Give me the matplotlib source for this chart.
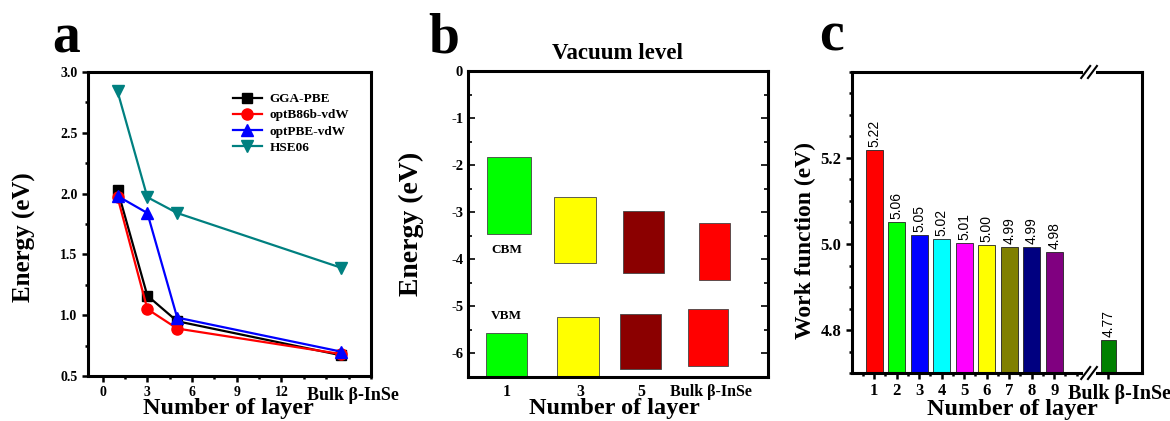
import matplotlib
matplotlib.use('Agg')
import matplotlib.pyplot as plt
from matplotlib.ticker import MultipleLocator

plt.rcParams['font.family'] = ['Liberation Serif', 'DejaVu Serif']
plt.rcParams['font.weight'] = 'bold'
plt.rcParams['axes.labelweight'] = 'bold'
plt.rcParams['axes.titleweight'] = 'bold'
plt.rcParams['axes.linewidth'] = 2.2
plt.rcParams['axes.unicode_minus'] = False

# panel a: band gap vs number of layers (bulk plotted at x=16)
layers_a = [1, 3, 5, 16]
gga_pbe = [2.03, 1.16, 0.95, 0.67]
optb86b = [1.97, 1.05, 0.89, 0.68]
optpbe = [1.98, 1.84, 0.98, 0.70]
hse06 = [2.84, 1.97, 1.84, 1.39]

# panel b: band edges relative to vacuum level
cats_b = ['1', '3', '5', 'Bulk β-InSe']
cbm_top = [-1.82, -2.67, -2.97, -3.22]
cbm_bot = [-3.47, -4.07, -4.30, -4.45]
vbm_top = [-5.57, -5.23, -5.16, -5.05]
vbm_bot = [-6.6, -6.6, -6.34, -6.27]
colors_b = ['#00ff00', '#ffff00', '#8b0000', '#ff0000']

# panel c: work function
cats_c = ['1', '2', '3', '4', '5', '6', '7', '8', '9', 'Bulk β-InSe']
work_func = [5.218, 5.052, 5.022, 5.012, 5.002, 4.997, 4.993, 4.993, 4.982, 4.777]
wf_labels = ['5.22', '5.06', '5.05', '5.02', '5.01', '5.00', '4.99', '4.99', '4.98', '4.77']
colors_c = ['#ff0000', '#00ff00', '#0000ff', '#00ffff', '#ff00ff',
            '#ffff00', '#808000', '#000080', '#800080', '#008000']


def plot_gap(ax):
    ax.plot(layers_a, gga_pbe, '-s', color='black', lw=1.6, ms=7, label='GGA-PBE')
    ax.plot(layers_a, optb86b, '-o', color='red', lw=1.6, ms=8, label='optB86b-vdW')
    ax.plot(layers_a, optpbe, '-^', color='blue', lw=1.6, ms=8, label='optPBE-vdW')
    ax.plot(layers_a, hse06, '-v', color='#008080', lw=1.6, ms=8, label='HSE06')

    ax.set_xlim(-1, 18)
    ax.set_ylim(0.5, 3.0)
    ax.set_xticks([0, 3, 6, 9, 12])
    ax.xaxis.set_minor_locator(MultipleLocator(1.5))
    ax.yaxis.set_major_locator(MultipleLocator(0.5))
    ax.yaxis.set_minor_locator(MultipleLocator(0.25))
    ax.tick_params(which='both', direction='out', width=1.8, labelsize=10)
    ax.tick_params(which='major', length=4)
    ax.tick_params(which='minor', length=2.5)
    ax.text(16.8, -0.035, 'Bulk β-InSe', transform=ax.get_xaxis_transform(),
            ha='center', va='top', fontsize=13)

    ax.set_xlabel('Number of layer', fontsize=17.5)
    ax.xaxis.set_label_coords(0.495, -0.072)
    ax.set_ylabel('Energy (eV)', fontsize=18)
    ax.yaxis.set_label_coords(-0.184, 0.457)
    ax.legend(loc='upper left', bbox_to_anchor=(0.47, 0.97), frameon=False,
              fontsize=9.5, handlelength=2.2, labelspacing=0.3,
              handletextpad=0.6)


def plot_levels(ax):
    xpos_cbm = [0.137, 0.358, 0.585, 0.823]
    wid_cbm = [0.15, 0.14, 0.137, 0.105]
    xpos_vbm = [0.129, 0.368, 0.577, 0.80]
    wid_vbm = [0.137, 0.14, 0.137, 0.134]

    for i in range(len(cats_b)):
        ax.bar(xpos_cbm[i], cbm_top[i] - cbm_bot[i], bottom=cbm_bot[i],
               width=wid_cbm[i], color=colors_b[i], edgecolor='#444444', lw=0.6)
        ax.bar(xpos_vbm[i], vbm_top[i] - vbm_bot[i], bottom=vbm_bot[i],
               width=wid_vbm[i], color=colors_b[i], edgecolor='#444444', lw=0.6)

    ax.text(0.129, -3.8, 'CBM', ha='center', va='center', fontsize=9.5)
    ax.text(0.129, -5.2, 'VBM', ha='center', va='center', fontsize=9.5)

    ax.set_xlim(0, 1)
    ax.set_ylim(-6.5, 0)
    ax.set_xticks([0.13, 0.375, 0.58, 0.81])
    ax.set_xticklabels(cats_b)
    ax.xaxis.get_ticklabels()[3].set_fontsize(15.5)
    ax.yaxis.set_major_locator(MultipleLocator(1))
    ax.yaxis.set_minor_locator(MultipleLocator(0.5))
    ax.tick_params(axis='x', length=0, labelsize=11.5, pad=5)
    ax.tick_params(axis='y', which='both', direction='in', right=True,
                   width=1.2, labelsize=10.5)
    ax.tick_params(axis='y', which='major', length=5)
    ax.tick_params(axis='y', which='minor', length=3)

    ax.set_title('Vacuum level', fontsize=16.5, pad=9)
    ax.set_xlabel('Number of layer', fontsize=17.5)
    ax.xaxis.set_label_coords(0.49, -0.068)
    ax.set_ylabel('Energy (eV)', fontsize=20)
    ax.yaxis.set_label_coords(-0.147, 0.50)


def plot_work(ax):
    xpos = [1, 2, 3, 4, 5, 6, 7, 8, 9, 11.4]
    widths = [0.74] * 9 + [0.67]
    ax.bar(xpos, work_func, width=widths, color=colors_c,
           edgecolor='#222222', lw=0.6)
    for x, v, lab in zip(xpos, work_func, wf_labels):
        ax.text(x, v + 0.007, lab, rotation=90, ha='center', va='bottom',
                fontsize=10, family='Liberation Sans', fontweight='normal')

    ax.set_xlim(0, 12.9)
    ax.set_ylim(4.7, 5.4)
    ax.set_xticks(xpos)
    ax.set_xticklabels(cats_c[:9] + [''])
    ax.text(11.9, -0.035, cats_c[9], transform=ax.get_xaxis_transform(),
            ha='center', va='top', fontsize=14.5)
    ax.set_xticks([0.5 + i for i in range(10)] + [10], minor=True)
    ax.set_yticks([4.8, 5.0, 5.2])
    ax.yaxis.set_minor_locator(MultipleLocator(0.05))
    ax.tick_params(which='both', direction='out', width=1.8)
    ax.tick_params(axis='x', which='major', length=4, labelsize=12)
    ax.tick_params(axis='y', which='major', length=4, labelsize=12)
    ax.tick_params(which='minor', length=2.5)

    # axis break marks on top and bottom spines
    xb = 10.55
    for yb in (0, 1):
        ax.plot([xb - 0.15, xb + 0.15], [yb, yb], color='white', lw=5,
                transform=ax.get_xaxis_transform(), clip_on=False, zorder=5)
        for dx in (-0.15, 0.15):
            ax.plot([xb + dx - 0.2, xb + dx + 0.2], [yb - 0.02, yb + 0.02],
                    color='black', lw=1.5, transform=ax.get_xaxis_transform(),
                    clip_on=False, zorder=6)

    ax.set_xlabel('Number of layer', fontsize=17.5)
    ax.xaxis.set_label_coords(0.555, -0.085)
    ax.set_ylabel('Work function (eV)', fontsize=17)
    ax.yaxis.set_label_coords(-0.124, 0.44)


def main():
    fig = plt.figure(figsize=(11.7, 4.21), dpi=100)

    ax_a = fig.add_axes([0.075, 0.107, 0.242, 0.722])
    ax_b = fig.add_axes([0.400, 0.105, 0.256, 0.726])
    ax_c = fig.add_axes([0.728, 0.114, 0.248, 0.715])

    plot_gap(ax_a)
    plot_levels(ax_b)
    plot_work(ax_c)

    fig.text(0.045, 0.875, 'a', fontsize=40, ha='left', va='baseline')
    fig.text(0.366, 0.875, 'b', fontsize=40, ha='left', va='baseline')
    fig.text(0.700, 0.880, 'c', fontsize=40, ha='left', va='baseline')

    fig.savefig('out.png', dpi=100)
    plt.close(fig)


if __name__ == '__main__':
    main()
